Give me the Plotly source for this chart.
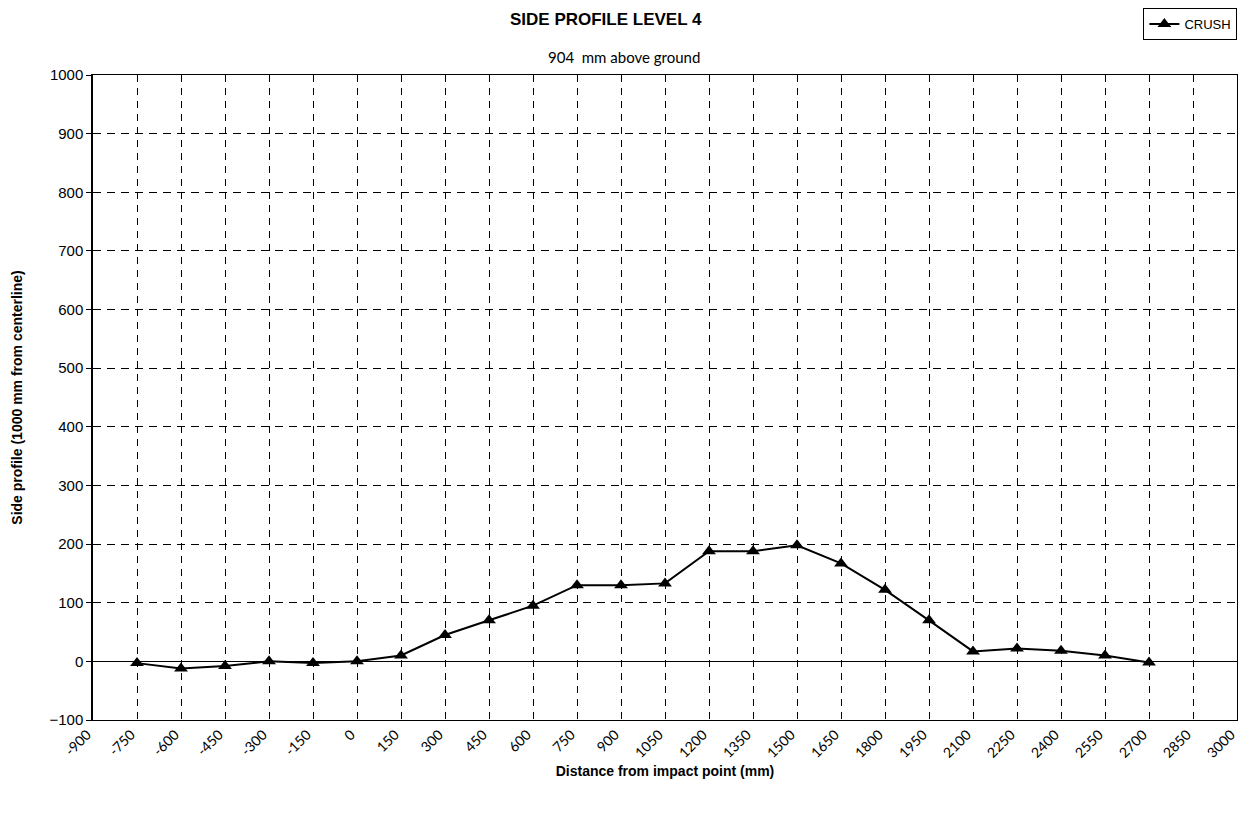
import plotly.graph_objects as go

x_mm = [-750, -600, -450, -300, -150, 0, 150, 300, 450, 600, 750, 900, 1050,
        1200, 1350, 1500, 1650, 1800, 1950, 2100, 2250, 2400, 2550, 2700]
crush = [-3, -12, -8, 0, -3, 0, 10, 45, 70, 95, 130, 130, 133,
         188, 188, 198, 167, 122, 70, 17, 22, 18, 10, -2]
x_ticks = list(range(-900, 3001, 150))
y_ticks = list(range(-100, 1001, 100))

round_font = dict(family="Lato, Noto Sans, sans-serif", size=15, color="black")
arial_font = dict(family="Liberation Sans, Arial, sans-serif", size=15, color="black")
bold_font = dict(family="Liberation Sans, Arial, sans-serif", size=14, color="black")

fig = go.Figure()
fig.add_trace(go.Scatter(
    x=x_mm, y=crush, mode="lines+markers", name="CRUSH",
    line=dict(color="black", width=2),
    marker=dict(symbol="triangle-up", size=12, color="black"),
))

fig.update_layout(
    width=1230, height=798,
    paper_bgcolor="white", plot_bgcolor="white",
    margin=dict(l=85, r=1, t=67, b=86, autoexpand=False),
    showlegend=True,
    legend=dict(x=0.9995, y=1.0, xref="container", yref="container", xanchor="right", yanchor="top",
                bordercolor="black", borderwidth=1, bgcolor="white",
                font=dict(family="Liberation Sans, Arial, sans-serif", size=13, color="black"),
                itemwidth=30, tracegroupgap=0),
    annotations=[
        dict(text="<b>SIDE PROFILE LEVEL 4</b>", xref="paper", yref="paper", x=0.448, y=1.0,
             yanchor="middle", yshift=56, showarrow=False,
             font=dict(family="Liberation Sans, Arial, sans-serif", size=17, color="black")),
        dict(text="904  mm above ground", xref="paper", yref="paper", x=0.464, y=1.0,
             yanchor="middle", yshift=18, showarrow=False, font=round_font),
    ],
)

fig.update_xaxes(
    range=[-900, 3000], tickmode="array", tickvals=x_ticks,
    ticktext=[str(v) for v in x_ticks], tickangle=-45,
    tickfont=dict(family="Lato, Noto Sans, sans-serif", size=14, color="black"),
    ticklabeloverflow="allow", ticklabelshift=-6,
    showgrid=True, gridcolor="black", griddash="7px,6px", gridwidth=1,
    showline=True, linecolor="black", linewidth=1, mirror=True,
    ticks="", zeroline=False, automargin=False,
    title=dict(text="<b>Distance from impact point (mm)</b>", font=bold_font, standoff=6),
)
fig.update_yaxes(
    range=[-100, 1000], tickmode="array", tickvals=y_ticks, tickfont=arial_font,
    showgrid=True, gridcolor="black", griddash="8px,6px", gridwidth=1,
    showline=True, linecolor="black", linewidth=1.5, mirror=True,
    ticks="outside", ticklen=5, tickcolor="black",
    zeroline=True, zerolinecolor="black", zerolinewidth=1, automargin=False,
    title=dict(text="<b>Side profile (1000 mm from centerline)</b>", font=bold_font, standoff=24),
)

fig.write_html("out.html")
